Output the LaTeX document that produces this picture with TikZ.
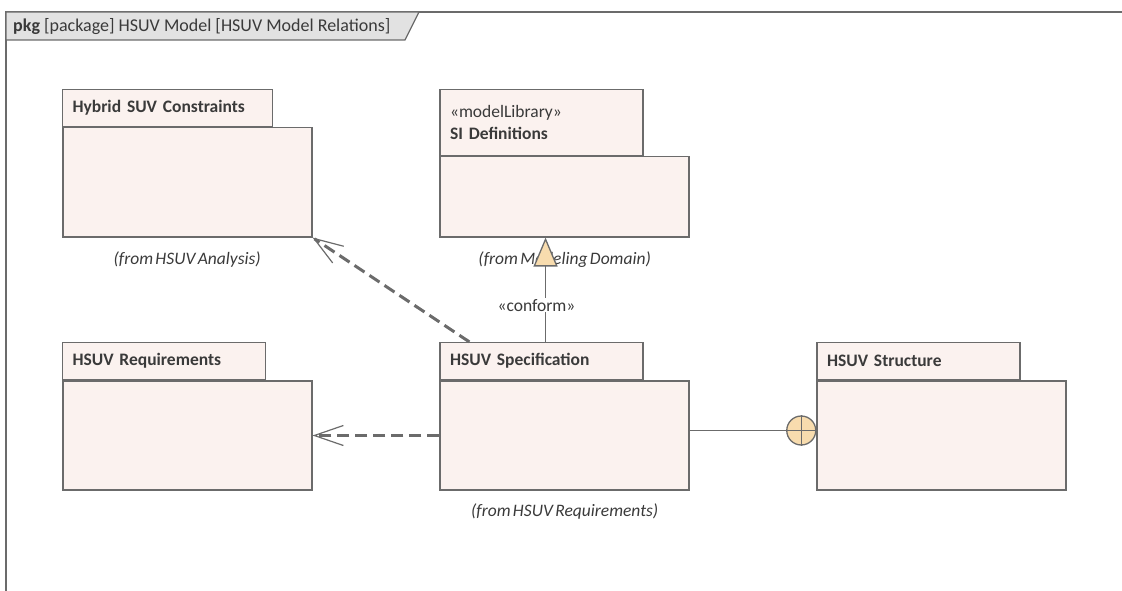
\documentclass[tikz,border=0pt]{standalone}
\usepackage{fontspec}
\setmainfont[WordSpace=0.6]{Carlito}
\newfontfamily\hdrfont{Carlito}
\usetikzlibrary{positioning, arrows.meta}
\definecolor{umlline}{HTML}{6B6B6B}
\definecolor{umlfill}{HTML}{FBF2EF}
\definecolor{umltext}{HTML}{3A3A3A}
\definecolor{umlhead}{HTML}{E2E2E2}
\definecolor{umlmark}{HTML}{F8DCAE}
\newcommand{\umlsize}{\fontsize{17.5}{21.5}\selectfont}
\tikzset{
  pkgbody/.style={draw=umlline, fill=umlfill, line width=1.6pt,
    minimum width=249pt, minimum height=109pt, inner sep=0pt},
  pkgtab/.style={draw=umlline, fill=umlfill, line width=1.3pt,
    anchor=south west, minimum height=37pt, text width=183pt,
    inner xsep=10pt, align=left, text=umltext, font=\umlsize\bfseries},
  fromlabel/.style={inner sep=0pt, text=umltext, font=\umlsize\itshape},
  dep/.style={umlline, line width=3pt, dash pattern=on 12pt off 6pt,
    -{Straight Barb[length=29pt, width=20pt, line width=1.2pt]}},
  realize/.style={umlline, line width=1.3pt,
    -{Triangle[length=29pt, width=24pt, fill=umlmark, line width=1.3pt]}},
}

\begin{document}
\begin{tikzpicture}[x=1pt, y=-1pt]
  \useasboundingbox (0,0) rectangle (1122,591);

  % frame and its header
  \draw[umlline, line width=2pt] (6,591) -- (6,12) -- (1122,12);
  \draw[umlline, line width=1.3pt, fill=umlhead]
    (6,12) -- (419,12) -- (405,40) -- (6,40) -- cycle;
  \node[anchor=west, inner sep=0pt, text=umltext,
    font=\hdrfont\fontsize{18}{21}\selectfont] (hdr) at (13,27)
    {\textbf{pkg} [package] HSUV Model [HSUV Model Relations]};

  % packages
  \node[pkgbody] (cons) at (187.2,182.2) {};
  \node[pkgtab, text width=190pt] (constab) at (cons.north west) {Hybrid SUV Constraints};
  \node[fromlabel, below=14pt of cons] (consfrom) {(from HSUV Analysis)};

  \node[pkgbody, minimum height=80pt] (si) at (564.7,196.7) {};
  \node[pkgtab, minimum height=66pt] (sitab) at (si.north west)
    {{\mdseries «modelLibrary»}\\SI Definitions};
  \node[fromlabel, below=14pt of si] (sifrom) {(from Modeling Domain)};

  \node[pkgbody] (req) at (187.2,435.5) {};
  \node[pkgtab] (reqtab) at (req.north west) {HSUV Requirements};

  \node[pkgbody] (spec) at (564.7,435.5) {};
  \node[pkgtab] (spectab) at (spec.north west) {HSUV Specification};
  \node[fromlabel, below=13pt of spec] (specfrom) {(from HSUV Requirements)};

  \node[pkgbody] (struct) at (941.7,435.5) {};
  \node[pkgtab] (structtab) at (struct.north west) {HSUV Structure};

  % relations
  \draw[dep] ([xshift=30pt]spectab.north west) -- (cons.south east);
  \draw[dep] (spec.west) -- (req.east);
  \draw[realize] ([xshift=4pt]spectab.north) -- ([xshift=4pt]spectab.north |- si.south)
    node[pos=0.35, fill=white, inner sep=1pt, xshift=-9pt, text=umltext, font=\umlsize]
    (conf) {«conform»};

  \node[circle, draw=umlline, fill=umlmark, line width=1.3pt, minimum size=29pt,
    inner sep=0pt, left=0pt of struct.west, yshift=5pt] (own) {};
  \draw[umlline, line width=1.3pt] (own.north) -- (own.south) (own.west) -- (own.east);
  \draw[umlline, line width=1.3pt] (spec.east |- own.center) -- (own.west);
\end{tikzpicture}
\end{document}
